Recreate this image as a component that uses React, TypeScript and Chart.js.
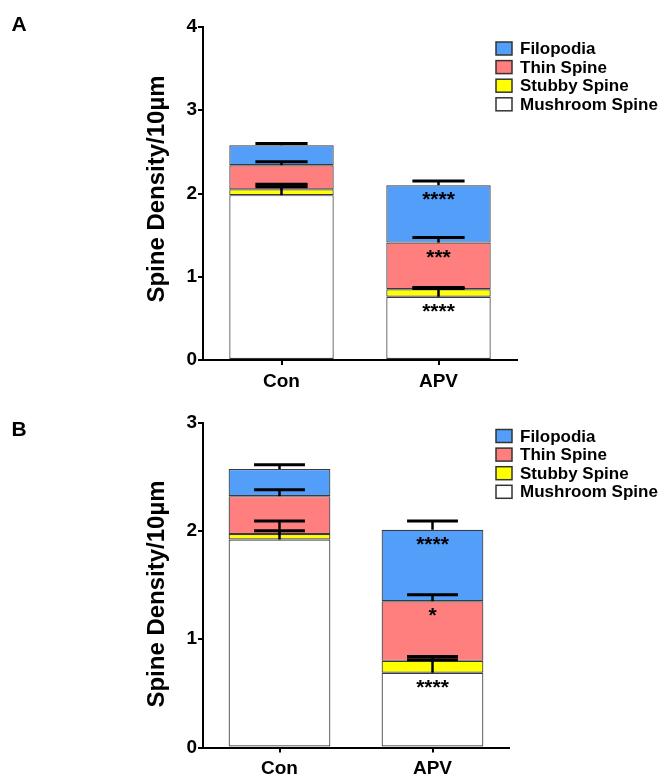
import React, { useEffect, useRef } from "react";
import { Chart, registerables } from "chart.js";

Chart.register(...registerables);

// ---------- shared ----------
const categories = ["Con", "APV"];
const seriesNames = ["Mushroom Spine", "Stubby Spine", "Thin Spine", "Filopodia"];
const seriesColors = ["#FFFFFF", "#FFFF00", "#FF7F7F", "#529EF9"];
const yTitle = "Spine Density/10µm";

// ---------- panel A ----------
const aMushroom = [1.98, 0.76];
const aStubby = [0.07, 0.09];
const aThin = [0.29, 0.56];
const aFilopodia = [0.24, 0.69];
const aMushroomSem = [0.1, 0.1];
const aStubbySem = [0.06, 0.02];
const aThinSem = [0.04, 0.06];
const aFilopodiaSem = [0.02, 0.05];
const aMushroomSig = ["", "****"];
const aStubbySig = ["", ""];
const aThinSig = ["", "***"];
const aFilopodiaSig = ["", "****"];
const aYMax = 4;

// ---------- panel B ----------
const bMushroom = [1.92, 0.69];
const bStubby = [0.05, 0.11];
const bThin = [0.35, 0.55];
const bFilopodia = [0.25, 0.66];
const bMushroomSem = [0.08, 0.12];
const bStubbySem = [0.12, 0.04];
const bThinSem = [0.06, 0.06];
const bFilopodiaSem = [0.04, 0.08];
const bMushroomSig = ["", "****"];
const bStubbySig = ["", ""];
const bThinSig = ["", "*"];
const bFilopodiaSig = ["", "****"];
const bYMax = 3;

const FONT = "'Liberation Sans', Arial, sans-serif";

type PanelProps = {
  letter: string;
  values: number[][];
  sems: number[][];
  sigs: string[][];
  yMax: number;
  height: number;
  top: number;
  areaTop: number;
  areaBottom: number;
  areaRight: number;
  titleCenterY: number;
  legendFirstY: number;
  letterY: number;
};

function Panel(p: PanelProps) {
  const ref = useRef<HTMLCanvasElement | null>(null);
  useEffect(() => {
    const canvas = ref.current;
    if (!canvas) return;
    const W = 661;
    const overlay = {
      id: "overlay",
      afterDatasetsDraw(chart: any) {
        const ctx = chart.ctx;
        const ys = chart.scales.y;
        ctx.save();
        // error bars
        const cum = categories.map(() => 0);
        p.values.forEach((arr, i) => {
          const meta = chart.getDatasetMeta(i);
          arr.forEach((v, j) => {
            cum[j] += v;
            const bar: any = meta.data[j];
            const x = bar.x;
            const half = bar.width / 4;
            const yTop = ys.getPixelForValue(cum[j]);
            const yCap = ys.getPixelForValue(cum[j] + p.sems[i][j]);
            ctx.strokeStyle = "#000";
            ctx.lineWidth = 2.5;
            ctx.beginPath();
            ctx.moveTo(x, yTop);
            ctx.lineTo(x, yCap);
            ctx.stroke();
            ctx.lineWidth = 3;
            ctx.beginPath();
            ctx.moveTo(x - half, yCap);
            ctx.lineTo(x + half, yCap);
            ctx.stroke();
          });
        });
        // significance stars
        const cum2 = categories.map(() => 0);
        ctx.font = `bold 21px ${FONT}`;
        ctx.fillStyle = "#000";
        ctx.textAlign = "center";
        ctx.textBaseline = "alphabetic";
        p.values.forEach((arr, i) => {
          const meta = chart.getDatasetMeta(i);
          arr.forEach((v, j) => {
            cum2[j] += v;
            const s = p.sigs[i][j];
            if (!s) return;
            const bar: any = meta.data[j];
            const yTop = ys.getPixelForValue(cum2[j]);
            const m = ctx.measureText(s);
            const asc = m.actualBoundingBoxAscent;
            const desc = m.actualBoundingBoxDescent;
            const cy = yTop + 11;
            ctx.fillText(s, bar.x, cy + (asc - desc) / 2);
          });
        });
        ctx.restore();
      },
      afterDraw(chart: any) {
        const ctx = chart.ctx;
        ctx.save();
        // panel letter
        ctx.fillStyle = "#000";
        ctx.font = `bold 21px ${FONT}`;
        ctx.textAlign = "center";
        ctx.textBaseline = "middle";
        ctx.fillText(p.letter, 19, p.letterY);
        // y title
        ctx.save();
        ctx.translate(164, p.titleCenterY);
        ctx.rotate(-Math.PI / 2);
        ctx.font = `bold 24px ${FONT}`;
        ctx.textAlign = "center";
        ctx.textBaseline = "alphabetic";
        ctx.fillText(yTitle, 0, 0);
        ctx.restore();
        // legend
        ctx.font = `bold 17px ${FONT}`;
        ctx.textAlign = "left";
        ctx.textBaseline = "middle";
        for (let k = 0; k < seriesNames.length; k++) {
          const idx = seriesNames.length - 1 - k;
          const cy = p.legendFirstY + k * 18.6;
          ctx.fillStyle = seriesColors[idx];
          ctx.fillRect(496, cy - 6.5, 16, 13);
          ctx.strokeStyle = "#333";
          ctx.lineWidth = 1.5;
          ctx.strokeRect(496, cy - 6.5, 16, 13);
          ctx.fillStyle = "#000";
          ctx.fillText(seriesNames[idx], 520, cy + 1);
        }
        ctx.restore();
      },
    };

    const chart = new Chart(canvas, {
      type: "bar",
      data: {
        labels: categories,
        datasets: p.values.map((vals, i) => ({
          label: seriesNames[i],
          data: vals,
          backgroundColor: seriesColors[i],
          borderColor: "#3a3a3a",
          borderWidth: 1.2,
          borderSkipped: false,
          barPercentage: 0.665,
          categoryPercentage: 1,
        })),
      },
      options: {
        animation: false,
        responsive: false,
        maintainAspectRatio: false,
        layout: {
          padding: { left: 0, top: p.areaTop, right: W - p.areaRight, bottom: 0 },
        },
        plugins: {
          legend: { display: false },
          tooltip: { enabled: false },
          title: { display: false },
        },
        scales: {
          x: {
            stacked: true,
            offset: true,
            grid: {
              display: true,
              offset: false,
              drawOnChartArea: false,
              drawTicks: true,
              tickLength: 5,
              color: "#000",
              lineWidth: 2,
            },
            border: { display: true, color: "#000", width: 2 },
            ticks: {
              color: "#000",
              font: { family: FONT, size: 19, weight: "bold" },
              padding: 5,
            },
            afterFit: (s: any) => {
              s.height = p.height - p.areaBottom;
            },
          },
          y: {
            stacked: true,
            min: 0,
            max: p.yMax,
            grid: {
              display: true,
              drawOnChartArea: false,
              drawTicks: true,
              tickLength: 5,
              color: "#000",
              lineWidth: 2,
            },
            border: { display: true, color: "#000", width: 2 },
            ticks: {
              stepSize: 1,
              color: "#000",
              font: { family: FONT, size: 19, weight: "bold" },
              padding: 1,
            },
            afterFit: (s: any) => {
              s.width = 203;
            },
          },
        },
      },
      plugins: [overlay],
    } as any);
    return () => chart.destroy();
  }, []);
  return (
    <canvas
      ref={ref}
      width={661}
      height={p.height}
      style={{ position: "absolute", left: 0, top: p.top, width: 661, height: p.height }}
    />
  );
}

export default function App() {
  return (
    <div style={{ position: "absolute", left: 0, top: 0, width: 661, height: 779, background: "#fff" }}>
      <Panel
        letter="A"
        values={[aMushroom, aStubby, aThin, aFilopodia]}
        sems={[aMushroomSem, aStubbySem, aThinSem, aFilopodiaSem]}
        sigs={[aMushroomSig, aStubbySig, aThinSig, aFilopodiaSig]}
        yMax={aYMax}
        height={400}
        top={0}
        areaTop={27}
        areaBottom={360}
        areaRight={517}
        titleCenterY={189}
        legendFirstY={48.5}
        letterY={25}
      />
      <Panel
        letter="B"
        values={[bMushroom, bStubby, bThin, bFilopodia]}
        sems={[bMushroomSem, bStubbySem, bThinSem, bFilopodiaSem]}
        sigs={[bMushroomSig, bStubbySig, bThinSig, bFilopodiaSig]}
        yMax={bYMax}
        height={379}
        top={400}
        areaTop={22.5}
        areaBottom={347.5}
        areaRight={509}
        titleCenterY={194}
        legendFirstY={36}
        letterY={30}
      />
    </div>
  );
}
